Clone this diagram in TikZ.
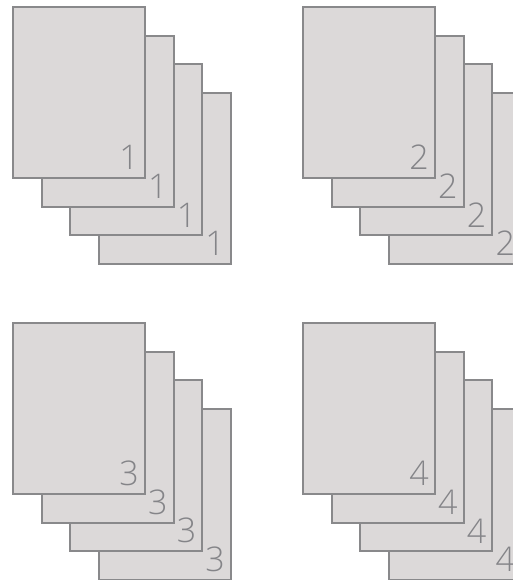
\documentclass[tikz,border=0pt]{standalone}
\usepackage{fontspec}
\newfontfamily\numfont{Open Sans Light}
\definecolor{pagefill}{RGB}{220,217,217}
\definecolor{pageline}{RGB}{137,137,139}
\definecolor{numcol}{RGB}{132,132,136}
\tikzset{
  page/.style={draw=pageline, fill=pagefill, line width=2pt, minimum width=132pt, minimum height=171pt, inner sep=0pt, anchor=north west},
  pagenum/.style={text=numcol, font=\numfont\fontsize{34}{34}\selectfont, inner sep=0pt, anchor=south east}
}
\begin{document}
\begin{tikzpicture}[x=1pt,y=-1pt]
\useasboundingbox (0,0) rectangle (513,580);
\foreach \s/\ox/\oy in {1/12/6, 2/302/6, 3/12/322, 4/302/322}{
  \foreach \k in {3,2,1,0}{
    \node[page] (p\s\k) at ({\ox+28.7*\k},{\oy+28.7*\k}) {};
    \node[pagenum] (n\s\k) at ([xshift=-7pt,yshift=9pt]p\s\k.south east) {\s};
  }
}
\end{tikzpicture}
\end{document}
